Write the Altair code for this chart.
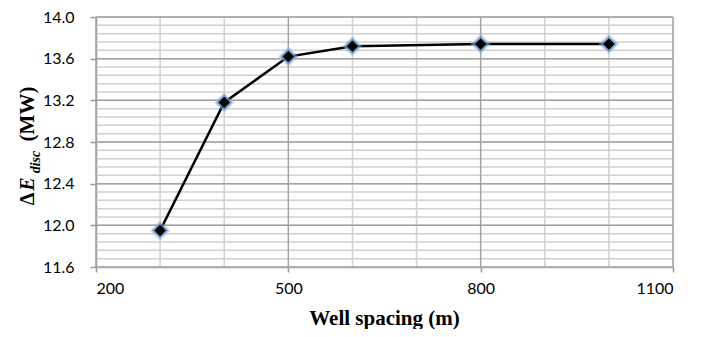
import altair as alt
import pandas as pd

# data
spacing = [300, 400, 500, 600, 800, 1000]
energy = [11.95, 13.18, 13.62, 13.72, 13.74, 13.74]

x_major = [200, 500, 800, 1100]
x_minor = [300, 400, 600, 700, 900, 1000]
y_major = [11.6, 12.0, 12.4, 12.8, 13.2, 13.6, 14.0]
y_minor = [round(11.6 + 0.08 * i, 2) for i in range(31)]

df = pd.DataFrame({"x": spacing, "y": energy})
xs = alt.Scale(domain=[200, 1100], nice=False, zero=False)
ys = alt.Scale(domain=[11.6, 14.0], nice=False, zero=False)

W, H = 577, 250

x_axis = alt.Axis(values=x_major, format="d", grid=False, title=None,
                  labelFont="Lato", labelFontSize=16, labelColor="#000",
                  labelPadding=8, tickSize=5, tickColor="#999", tickWidth=1.5,
                  domainColor="#999", domainWidth=1.5)
y_axis = alt.Axis(values=y_major, format=".1f", grid=False, title=None,
                  labelFont="Lato", labelFontSize=16, labelColor="#000",
                  labelPadding=16, tickSize=6, tickColor="#999", tickWidth=1.5,
                  domainColor="#999", domainWidth=1.5)

vminor = alt.Chart(pd.DataFrame({"x": x_minor})).mark_rule(color="#d0d0d0", strokeWidth=1.5).encode(
    x=alt.X("x:Q", scale=xs, axis=x_axis))
hminor = alt.Chart(pd.DataFrame({"y": y_minor})).mark_rule(color="#d0d0d0", strokeWidth=1.5).encode(
    y=alt.Y("y:Q", scale=ys, axis=y_axis))
hmajor = alt.Chart(pd.DataFrame({"y": y_major})).mark_rule(color="#a3a3a3", strokeWidth=1.5).encode(
    y=alt.Y("y:Q", scale=ys, axis=y_axis))
vmajor = alt.Chart(pd.DataFrame({"x": x_major})).mark_rule(color="#a3a3a3", strokeWidth=1.5).encode(
    x=alt.X("x:Q", scale=xs, axis=x_axis))

base = alt.Chart(df).encode(
    x=alt.X("x:Q", scale=xs, axis=x_axis),
    y=alt.Y("y:Q", scale=ys, axis=y_axis),
)

line = base.mark_line(color="#000", strokeWidth=2.5)
glow1 = base.mark_point(shape="diamond", filled=True, size=420, color="#8db4dc", opacity=0.45)
glow2 = base.mark_point(shape="diamond", filled=True, size=260, color="#4f86c0", opacity=0.7)
pts = base.mark_point(shape="diamond", filled=True, size=130, color="#000", opacity=1)


def ttext(t, yy, xx, size, style, weight, angle=270):
    return alt.Chart(pd.DataFrame({"t": [t]})).mark_text(
        angle=angle, align="center", baseline="alphabetic", font="Liberation Serif",
        fontSize=size, fontStyle=style, fontWeight=weight, color="#000"
    ).encode(text="t:N", x=alt.value(xx), y=alt.value(yy))


title_layers = [
    ttext("Δ", 182, -62, 20, "normal", "bold"),
    ttext("E", 167, -62, 20, "italic", "bold"),
    ttext("disc", 145, -56, 14, "italic", "bold"),
    ttext("(MW)", 97, -62, 21, "normal", "bold"),
    ttext("Well spacing (m)", 308, W / 2, 21, "normal", "bold", angle=0),
]

chart = alt.layer(vminor, hminor, hmajor, vmajor, line, glow1, glow2, pts, *title_layers).properties(
    width=W, height=H,
    padding={"left": 88, "top": 9, "right": 20, "bottom": 62},
    autosize=alt.AutoSizeParams(type="none"),
).configure_view(stroke=None).configure(background="#ffffff")

chart.save("out.html", embed_options={"renderer": "svg", "actions": False})
